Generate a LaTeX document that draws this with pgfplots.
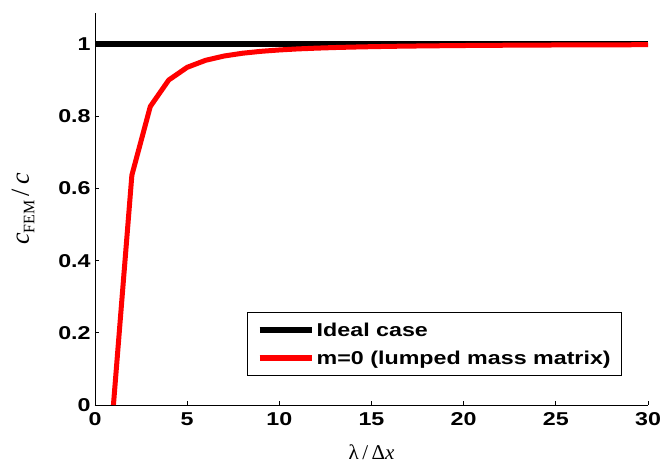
\documentclass[border=0pt]{standalone}
\usepackage{fontspec}
\setmainfont{Liberation Sans}
\newfontfamily\tms{Liberation Serif}
\usepackage{pgfplots}
\pgfplotsset{compat=1.18}
\newcommand{\widen}[1]{\scalebox{1.25}[1]{#1}}
\begin{document}
\begin{tikzpicture}
\begin{axis}[name=ax,
  scale only axis, width=553pt, height=392pt,
  xmin=0, xmax=30, ymin=0, ymax=1.086,
  axis x line=bottom, axis y line=left,
  axis line style={-, line width=0.8pt},
  xtick={0,5,...,30}, ytick={0,0.2,...,1},
  yticklabels={0,0.2,0.4,0.6,0.8,1},
  tick align=inside, major tick length=4pt,
  tick style={black, line width=0.8pt},
  /pgf/number format/assume math mode=true,
  ticklabel style={font=\fontsize{18.6}{20}\selectfont\bfseries, xscale=1.25},
  xticklabel style={yshift=-4pt},
  xlabel={\tms\fontsize{21}{23}\selectfont λ\,/\,Δ\itshape x},
  ylabel={\tms\fontsize{26}{28}\selectfont\itshape c\raisebox{-0.45ex}{\upshape\fontsize{16}{16}\selectfont FEM}\,\upshape/\,\itshape c},
  xlabel style={at={(rel axis cs:0.5,0)}, yshift=-47pt, anchor=center},
  ylabel style={at={(rel axis cs:0,0.5)}, yshift=72pt, anchor=center},
  legend style={at={(rel axis cs:0.953,0.074)}, anchor=south east,
    font=\fontsize{18.6}{22}\selectfont\bfseries, draw=black, line width=0.6pt,
    inner xsep=9pt, inner ysep=8pt, row sep=9pt},
  legend cell align=left,
  legend image code/.code={\draw[#1, line width=6pt] (0pt,0pt) -- (52pt,0pt);},
  clip=false,
]
\addplot[black, line width=6.5pt] coordinates {(0,1) (30,1)};
\addlegendentry{\widen{Ideal case}}
\addplot[red, line width=5pt, line join=round] coordinates {
(1,0) (2,0.6366) (3,0.8270) (4,0.9003) (5,0.9355) (6,0.9549) (7,0.9668)
(8,0.9745) (9,0.9798) (10,0.9836) (11,0.9865) (12,0.9886) (13,0.9903)
(14,0.9916) (15,0.9927) (16,0.9936) (17,0.9943) (18,0.9949) (19,0.9954)
(20,0.9959) (21,0.9963) (22,0.9966) (23,0.9969) (24,0.9971) (25,0.9974)
(26,0.9976) (27,0.9977) (28,0.9979) (29,0.9980) (30,0.9982)};
\addlegendentry{\widen{m=0 (lumped mass matrix)}}
\end{axis}
\pgfresetboundingbox
\path (ax.south west) ++(-95pt,-68pt) coordinate (bl);
\path (ax.north east) ++(12pt,13pt) coordinate (tr);
\path[use as bounding box] (bl) rectangle (tr);
\end{tikzpicture}
\end{document}
